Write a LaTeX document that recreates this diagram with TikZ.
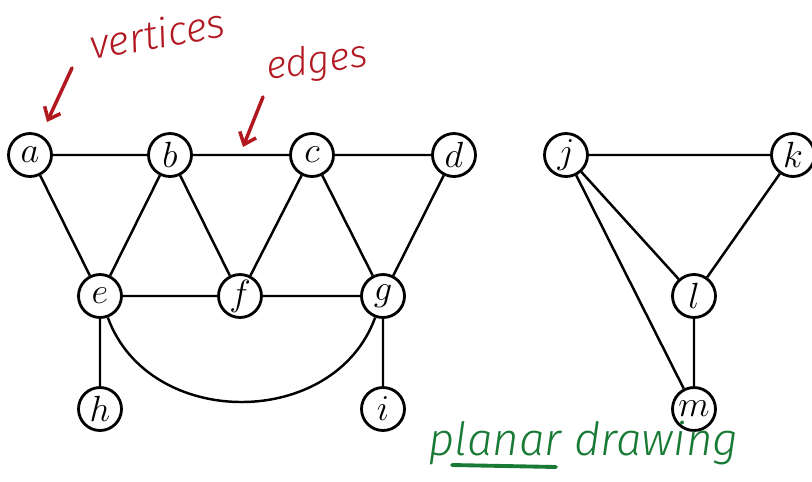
\documentclass[tikz,border=0pt]{standalone}
\usepackage{fontspec}
\newfontfamily\hand{Fira Sans Light}
\usetikzlibrary{arrows.meta}
\definecolor{hred}{RGB}{178,24,32}
\definecolor{hgreen}{RGB}{24,122,52}
\begin{document}
\begin{tikzpicture}[x=0.02cm,y=-0.02cm,
  vtx/.style={circle,draw,line width=1.6pt,minimum size=0.86cm,inner sep=0pt,font=\fontsize{20}{22}\selectfont},
  edge/.style={line width=1.4pt},
  note/.style={font=\hand\itshape\fontsize{26}{30}\selectfont,inner sep=0pt},
  harrow/.style={line width=2pt,line cap=round,-{Straight Barb[length=6pt,width=10pt]}}]
\useasboundingbox (0,0) rectangle (812,481);
\node[vtx] (a) at (30,155) {$a$};
\node[vtx] (b) at (170,155) {$b$};
\node[vtx] (c) at (312,155) {$c$};
\node[vtx] (d) at (454,155) {$d$};
\node[vtx] (e) at (100,296) {$e$};
\node[vtx] (f) at (240,296) {$f$};
\node[vtx] (g) at (383,296) {$g$};
\node[vtx] (h) at (100,409) {$h$};
\node[vtx] (i) at (383,409) {$i$};
\node[vtx] (j) at (566,155) {$j$};
\node[vtx] (k) at (793,155) {$k$};
\node[vtx] (l) at (694,296) {$l$};
\node[vtx] (m) at (694,409) {$m$};
\draw[edge] (a)--(b) (b)--(c) (c)--(d) (a)--(e) (b)--(e) (b)--(f) (c)--(f) (c)--(g) (d)--(g)
  (e)--(f) (f)--(g) (e)--(h) (g)--(i);
\draw[edge] (e) to[out=-70,in=-110,looseness=1.15] (g);
\draw[edge] (j)--(k) (j)--(l) (j)--(m) (k)--(l) (l)--(m);
% annotations
\node[note,font=\hand\itshape\fontsize{23}{28}\selectfont,text=hred,rotate=10,anchor=base west] (vt) at (92,60) {vertices};
\node[note,font=\hand\itshape\fontsize{22}{26}\selectfont,text=hred,rotate=8,anchor=base west] (ed) at (268,80) {edges};
\coordinate (v1) at (72,68);
\coordinate (v2) at (47,122);
\coordinate (e1) at (263,97);
\coordinate (e2) at (243,147);
\draw[harrow,hred] (v1)--(v2);
\draw[harrow,hred] (e1)--(e2);
\node[note,text=hgreen,anchor=base west] (pd) at (428,455) {planar drawing};
\coordinate (u1) at (452,465);
\coordinate (u2) at (556,467);
\draw[hgreen,line width=2.2pt,line cap=round] (u1)--(u2);
\end{tikzpicture}
\end{document}
